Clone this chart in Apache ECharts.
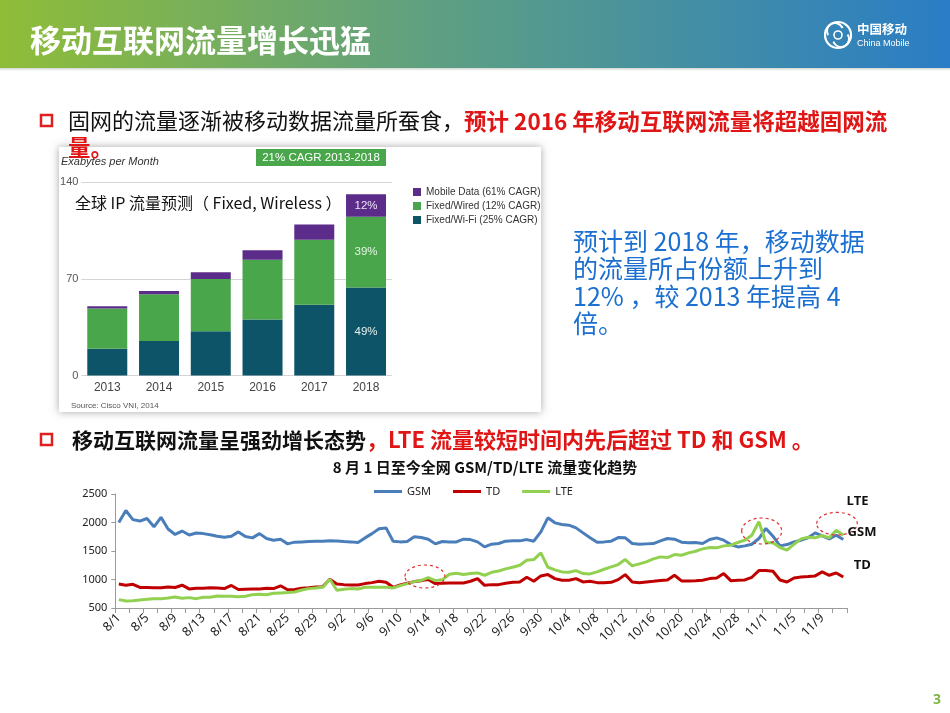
<!DOCTYPE html>
<html><head><meta charset="utf-8">
<script src="https://cdn.jsdelivr.net/npm/echarts@6/dist/echarts.min.js"></script>
<style>html,body{margin:0;padding:0;background:#fff}#c{width:950px;height:713px}</style>
</head><body><div id="c"></div>
<script>
// ---------- Bar chart data (Exabytes per Month) ----------
const years = ['2013','2014','2015','2016','2017','2018'];
const wifiVals   = [19.4, 25.0, 32.0, 40.6, 51.3, 63.7];
const wiredVals  = [29.2, 33.8, 38.0, 43.3, 47.1, 51.3];
const mobileVals = [1.5, 2.5, 4.9, 6.8, 11.0, 16.3];
const shares2018 = {wifi:'49%', wired:'39%', mobile:'12%'};
const barNames = {mobile:'Mobile Data (61% CAGR)', wired:'Fixed/Wired (12% CAGR)', wifi:'Fixed/Wi-Fi (25% CAGR)'};

// ---------- Line chart data ----------
const dates = ['8/1','8/2','8/3','8/4','8/5','8/6','8/7','8/8','8/9','8/10','8/11','8/12','8/13','8/14','8/15','8/16','8/17','8/18','8/19','8/20','8/21','8/22','8/23','8/24','8/25','8/26','8/27','8/28','8/29','8/30','8/31',
'9/1','9/2','9/3','9/4','9/5','9/6','9/7','9/8','9/9','9/10','9/11','9/12','9/13','9/14','9/15','9/16','9/17','9/18','9/19','9/20','9/21','9/22','9/23','9/24','9/25','9/26','9/27','9/28','9/29','9/30',
'10/1','10/2','10/3','10/4','10/5','10/6','10/7','10/8','10/9','10/10','10/11','10/12','10/13','10/14','10/15','10/16','10/17','10/18','10/19','10/20','10/21','10/22','10/23','10/24','10/25','10/26','10/27','10/28','10/29','10/30','10/31',
'11/1','11/2','11/3','11/4','11/5','11/6','11/7','11/8','11/9','11/10','11/11','11/12'];
const gsm = [2000,2210,2050,2025,2070,1925,2090,1885,1790,1850,
1780,1815,1805,1785,1760,1740,1760,1835,1755,1730,
1805,1720,1690,1705,1625,1655,1660,1665,1670,1672,
1678,1675,1666,1660,1649,1730,1805,1890,1905,1672,
1660,1666,1748,1736,1707,1625,1666,1660,1660,1707,
1700,1660,1572,1619,1631,1672,1678,1678,1700,1672,
1836,2082,1994,1965,1953,1906,1818,1731,1654,1660,
1672,1736,1731,1631,1619,1625,1631,1678,1719,1707,
1654,1643,1649,1631,1701,1731,1690,1613,1572,1590,
1619,1719,1895,1760,1590,1613,1660,1690,1731,1818,
1766,1713,1777,1701];
const td = [920,900,915,860,860,855,855,870,860,900,
835,845,845,855,850,840,895,825,830,835,
835,845,840,890,820,825,846,857,869,875,
1004,922,910,904,904,928,945,969,951,863,
904,934,963,980,1000,928,934,940,940,940,
969,1016,898,910,910,934,951,957,1039,969,
1063,1086,1016,986,986,1016,957,969,945,945,
951,998,1086,957,945,957,969,983,992,1074,
975,975,980,986,1016,1027,1104,980,986,992,
1039,1156,1156,1145,992,957,1027,1045,1051,1063,
1133,1074,1115,1045];
const lte = [647,623,629,641,652,664,664,676,693,670,
682,664,688,688,711,705,705,699,705,734,
740,734,758,764,770,781,816,840,852,863,
1004,811,828,840,834,863,863,863,863,852,
893,928,963,986,1033,980,998,1092,1109,1086,
1104,1115,1074,1127,1150,1186,1215,1250,1338,1350,
1467,1215,1168,1133,1127,1156,1104,1098,1133,1180,
1221,1262,1350,1238,1274,1309,1362,1397,1385,1438,
1426,1467,1496,1537,1561,1555,1590,1602,1649,1690,
1777,2012,1643,1643,1561,1514,1619,1713,1742,1731,
1772,1731,1865,1777];

const LAT = "'Liberation Sans', Arial, sans-serif";
const NS = "'Noto Sans', 'Noto Sans CJK SC', sans-serif";

const chart = echarts.init(document.getElementById('c'), null, {renderer:'canvas'});

function lastLabel(vals, txt){
  return vals.map((v,i)=> i===vals.length-1 ? {value:v, label:{show:true, formatter:txt}} : v);
}

const option = {
  animation: false,
  backgroundColor: '#ffffff',
  grid: [
    {left: 81.4, top: 182.3, width: 310.5, height: 193.2, containLabel: false},
    {left: 115.3, top: 494, width: 731.5, height: 114, containLabel: false}
  ],
  legend: [
    {data:['GSM','TD','LTE'], left: 369, top: 481, icon:'rect', itemWidth: 28, itemHeight: 3, itemGap: 22,
     textStyle:{fontSize:11, color:'#222', fontFamily: NS}},
    {data:[barNames.mobile, barNames.wired, barNames.wifi], orient:'vertical', left: 408, top: 181,
     icon:'rect', itemWidth: 8, itemHeight: 8, itemGap: 2,
     textStyle:{fontSize:10, color:'#333', lineHeight: 12, fontFamily: LAT}}
  ],
  xAxis: [
    {type:'category', gridIndex:0, data: years, axisLine:{show:false}, axisTick:{show:false},
     axisLabel:{color:'#444', fontSize:12, margin:6, fontFamily: LAT}},
    {type:'category', gridIndex:1, data: dates, boundaryGap:true,
     axisLine:{show:true, lineStyle:{color:'#9a9a9a', width:1}},
     axisTick:{show:true, interval:1, length:5, lineStyle:{color:'#9a9a9a'}},
     axisLabel:{interval:3, rotate:45, fontSize:12.5, color:'#222', margin:8, fontFamily: NS}}
  ],
  yAxis: [
    {type:'value', gridIndex:0, min:0, max:140, interval:70,
     axisLine:{show:false}, axisTick:{show:false},
     axisLabel:{color:'#555', fontSize:11, margin:3, fontFamily: LAT},
     splitLine:{show:true, lineStyle:{color:'#d4d4d4', width:1}}},
    {type:'value', gridIndex:1, min:500, max:2500, interval:500,
     axisLine:{show:true, lineStyle:{color:'#9a9a9a', width:1}},
     axisTick:{show:true, length:4, lineStyle:{color:'#9a9a9a'}},
     axisLabel:{color:'#222', fontSize:11, margin:8, fontFamily: NS, formatter: v => String(v)},
     splitLine:{show:false}}
  ],
  series: [
    {name: barNames.wifi, type:'bar', stack:'ip', xAxisIndex:0, yAxisIndex:0, barWidth:40,
     itemStyle:{color:'#0e5468'}, data: lastLabel(wifiVals, shares2018.wifi),
     label:{show:false, position:'inside', color:'#e6f0ea', fontSize:11.5, fontFamily: LAT}},
    {name: barNames.wired, type:'bar', stack:'ip', xAxisIndex:0, yAxisIndex:0, barWidth:40,
     itemStyle:{color:'#4aa64a'}, data: lastLabel(wiredVals, shares2018.wired),
     label:{show:false, position:'inside', color:'#e6f5e6', fontSize:11.5, fontFamily: LAT}},
    {name: barNames.mobile, type:'bar', stack:'ip', xAxisIndex:0, yAxisIndex:0, barWidth:40,
     itemStyle:{color:'#5b2c8a'}, data: lastLabel(mobileVals, shares2018.mobile),
     label:{show:false, position:'inside', color:'#eee6f5', fontSize:11.5, fontFamily: LAT}},
    {name:'GSM', type:'line', xAxisIndex:1, yAxisIndex:1, data: gsm, showSymbol:false, symbol:'none',
     lineStyle:{color:'#4a7ebb', width:3}, itemStyle:{color:'#4a7ebb'}},
    {name:'TD', type:'line', xAxisIndex:1, yAxisIndex:1, data: td, showSymbol:false, symbol:'none',
     lineStyle:{color:'#c00000', width:3}, itemStyle:{color:'#c00000'}},
    {name:'LTE', type:'line', xAxisIndex:1, yAxisIndex:1, data: lte, showSymbol:false, symbol:'none',
     lineStyle:{color:'#92d050', width:3}, itemStyle:{color:'#92d050'}}
  ],
  graphic: {elements: [
    // header
    {type:'rect', z:-5, shape:{x:0, y:0, width:950, height:68},
     style:{fill:{type:'linear', x:0, y:0, x2:1, y2:0, colorStops:[
       {offset:0, color:'#8fbd38'}, {offset:0.45, color:'#5fa081'}, {offset:1, color:'#2a7dc6'}]}}},
    {type:'rect', z:-5, shape:{x:0, y:68, width:950, height:3},
     style:{fill:{type:'linear', x:0, y:0, x2:0, y2:1, colorStops:[{offset:0,color:'#cfd8cf'},{offset:1,color:'#ffffff'}]}}},
    {type:'text', z:10, x:30, y:40, style:{text:'移动互联网流量增长迅猛', fill:'#ffffff',
     font:"bold 31px 'Noto Sans CJK SC', sans-serif", textVerticalAlign:'middle', verticalAlign:'middle'}},
    // logo
    {type:'circle', z:10, shape:{cx:838, cy:35, r:13}, style:{fill:'none', stroke:'#ffffff', lineWidth:2.2}},
    {type:'arc', z:10, shape:{cx:835, cy:31, r:8, startAngle:2.6, endAngle:5.9}, style:{fill:'none', stroke:'#ffffff', lineWidth:2}},
    {type:'arc', z:10, shape:{cx:841, cy:39, r:8, startAngle:-0.6, endAngle:2.8}, style:{fill:'none', stroke:'#ffffff', lineWidth:2}},
    {type:'arc', z:10, shape:{cx:838, cy:35, r:4, startAngle:0, endAngle:6.28}, style:{fill:'none', stroke:'#ffffff', lineWidth:1.6}},
    {type:'text', z:10, x:857, y:29, style:{text:'中国移动', fill:'#ffffff', font:"bold 12.5px 'Noto Sans CJK SC', sans-serif", textVerticalAlign:'middle', verticalAlign:'middle'}},
    {type:'text', z:10, x:857, y:44, style:{text:'China Mobile', fill:'#ffffff', font:"9px 'Liberation Sans', Arial, sans-serif", textVerticalAlign:'middle', verticalAlign:'middle'}},

    // picture frame for the bar chart
    {type:'rect', z:-3, shape:{x:59, y:147, width:482, height:265},
     style:{fill:'#ffffff', shadowBlur:8, shadowColor:'rgba(0,0,0,0.35)', shadowOffsetX:0, shadowOffsetY:0}},
    {type:'text', z:10, x:61, y:162, style:{text:'Exabytes per Month', fill:'#333', font:"italic 11px 'Liberation Sans', Arial, sans-serif", textVerticalAlign:'middle', verticalAlign:'middle'}},
    {type:'rect', z:10, shape:{x:256, y:149, width:130, height:17}, style:{fill:'#4aa64a'}},
    {type:'text', z:11, x:321, y:157.5, style:{text:'21% CAGR 2013-2018', fill:'#ffffff', font:"11.5px 'Liberation Sans', Arial, sans-serif", textAlign:'center', align:'center', textVerticalAlign:'middle', verticalAlign:'middle'}},
    {type:'text', z:10, x:71, y:406, style:{text:'Source: Cisco VNI, 2014', fill:'#555', font:"8px 'Liberation Sans', Arial, sans-serif", textVerticalAlign:'middle', verticalAlign:'middle'}},
    {type:'text', z:20, x:75, y:203, style:{text:'全球 IP 流量预测（ Fixed, Wireless ）', fill:'#111', font:"16px 'Noto Sans CJK SC', sans-serif", textVerticalAlign:'middle', verticalAlign:'middle'}},

    // bullet 1
    {type:'rect', z:10, shape:{x:41, y:115, width:11, height:11}, style:{fill:'none', stroke:'#e02020', lineWidth:2.5}},
    {type:'text', z:20, x:68, y:121, style:{text:'{a|固网的流量逐渐被移动数据流量所蚕食，}{b|预计 2016 年移动互联网流量将超越固网流}',
      textVerticalAlign:'middle', verticalAlign:'middle',
      rich:{a:{fill:'#111', fontSize:22, fontFamily:"'Noto Sans CJK SC', sans-serif"},
            b:{fill:'#e01515', fontSize:22.5, fontWeight:'bold', fontFamily:"'Noto Sans CJK SC', sans-serif"}}}},
    {type:'text', z:20, x:68, y:147, style:{text:'量。', fill:'#e01515', font:"bold 22.5px 'Noto Sans CJK SC', sans-serif", textVerticalAlign:'middle', verticalAlign:'middle'}},

    // right blue note
    {type:'text', z:20, x:573, y:228, style:{text:'预计到 2018 年，移动数据\n的流量所占份额上升到\n12% ，较 2013 年提高 4\n倍。',
      fill:'#1b6fd0', font:"25px 'Noto Sans CJK SC', sans-serif", lineHeight:27.3, textVerticalAlign:'top', verticalAlign:'top'}},

    // bullet 2
    {type:'rect', z:10, shape:{x:41, y:434, width:11, height:11}, style:{fill:'none', stroke:'#e02020', lineWidth:2.5}},
    {type:'text', z:20, x:72, y:440, style:{text:'{a|移动互联网流量呈强劲增长态势}{b|，LTE 流量较短时间内先后超过 TD 和 GSM 。}',
      textVerticalAlign:'middle', verticalAlign:'middle',
      rich:{a:{fill:'#111', fontSize:21, fontWeight:'bold', fontFamily:"'Noto Sans CJK SC', sans-serif"},
            b:{fill:'#e01515', fontSize:22, fontWeight:'bold', fontFamily:"'Noto Sans CJK SC', sans-serif"}}}},

    // line chart title
    {type:'text', z:20, x:485, y:467, style:{text:'8 月 1 日至今全网 GSM/TD/LTE 流量变化趋势', fill:'#111',
      font:"bold 15px 'Noto Sans CJK SC', sans-serif", textAlign:'center', align:'center', textVerticalAlign:'middle', verticalAlign:'middle'}},

    // dashed ellipses
    {type:'ellipse', z:30, shape:{cx:425, cy:576.5, rx:20, ry:11.5}, style:{fill:'none', stroke:'#e03030', lineWidth:1.2, lineDash:[3,3]}},
    {type:'ellipse', z:30, shape:{cx:761.7, cy:531, rx:20, ry:13}, style:{fill:'none', stroke:'#e03030', lineWidth:1.2, lineDash:[3,3]}},
    {type:'ellipse', z:30, shape:{cx:837, cy:523.7, rx:20.3, ry:11.3}, style:{fill:'none', stroke:'#e03030', lineWidth:1.2, lineDash:[3,3]}},

    // end labels
    {type:'text', z:30, x:857.5, y:501.5, style:{text:'LTE', fill:'#111', font:"bold 13px 'Open Sans', 'Noto Sans', sans-serif", textAlign:'center', align:'center', textVerticalAlign:'middle', verticalAlign:'middle'}},
    {type:'text', z:30, x:862, y:532.5, style:{text:'GSM', fill:'#111', font:"bold 13px 'Open Sans', 'Noto Sans', sans-serif", textAlign:'center', align:'center', textVerticalAlign:'middle', verticalAlign:'middle'}},
    {type:'text', z:30, x:862.3, y:565.5, style:{text:'TD', fill:'#111', font:"bold 13px 'Open Sans', 'Noto Sans', sans-serif", textAlign:'center', align:'center', textVerticalAlign:'middle', verticalAlign:'middle'}},

    // page number
    {type:'text', z:30, x:937, y:700, style:{text:'3', fill:'#7ab648', font:"bold 14px 'Noto Sans', sans-serif", textAlign:'center', align:'center', textVerticalAlign:'middle', verticalAlign:'middle'}}
  ]}
};
chart.setOption(option);
</script>
</body></html>
